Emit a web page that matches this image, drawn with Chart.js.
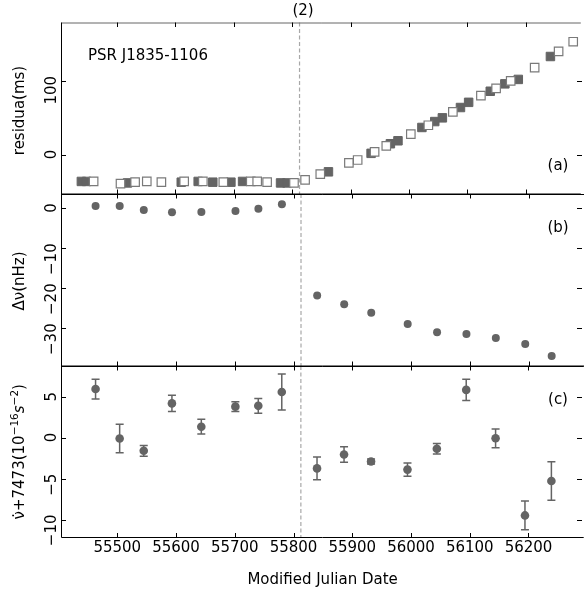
<!DOCTYPE html>
<html>
<head>
<meta charset="utf-8">
<script src="https://cdn.jsdelivr.net/npm/chart.js"></script>
<style>
html, body { margin: 0; padding: 0; background: #fff; overflow: hidden; }
#wrap { position: relative; width: 588px; height: 592px; }
#wrap canvas { position: absolute; left: 0; top: 0; }
</style>
</head>
<body>
<div id="wrap">
  <canvas id="panel-a" width="588" height="592"></canvas>
  <canvas id="panel-b" width="588" height="592"></canvas>
  <canvas id="panel-c" width="588" height="592"></canvas>
</div>
<script>
// Timing residuals (ms), filled and open squares
const residFilledMjd = [55439, 55448, 55518, 55610, 55639, 55664, 55695, 55715, 55780, 55791,
  55862, 55935, 55968, 55981, 56022, 56044, 56057, 56088, 56102, 56139, 56164, 56187, 56242];
const residFilledMs = [-36, -36, -38, -37, -36, -37, -37, -36, -38, -38,
  -23, 2, 15, 19, 37, 45, 50, 64, 71, 86, 96, 102, 133];
const residOpenMjd = [55460, 55506, 55531, 55551, 55576, 55615, 55647, 55682, 55729, 55740, 55757,
  55803, 55822, 55848, 55897, 55912, 55941, 55961, 56003, 56033, 56075, 56123, 56149, 56174,
  56215, 56256, 56281];
const residOpenMs = [-36, -39, -37, -36, -37, -36, -36, -37, -36, -36, -37,
  -38, -34, -26, -11, -7, 4, 12, 28, 40, 58, 80, 90, 100, 118, 140, 153];

// Epochs for the frequency and frequency derivative fits
const epochMjd = [55463, 55504, 55545, 55593, 55643, 55701, 55740, 55780, 55840,
  55886, 55932, 55994, 56044, 56094, 56144, 56194, 56239];
const deltaNu = [0.6, 0.6, -0.4, -1.0, -0.9, -0.7, -0.1, 1.0, -21.8,
  -24.0, -26.1, -28.9, -31.0, -31.4, -32.4, -33.9, -36.9];
const nuDot = [5.95, -0.1, -1.6, 4.2, 1.35, 3.8, 3.9, 5.6, -3.75,
  -2.05, -2.9, -3.9, -1.35, 5.85, -0.07, -9.5, -5.3];
const nuDotErr = [1.2, 1.75, 0.65, 1.0, 0.9, 0.6, 0.9, 2.2, 1.4,
  0.95, 0.3, 0.8, 0.65, 1.3, 1.15, 1.75, 2.35];

// Tick labels
const xTicks = [55500, 55600, 55700, 55800, 55900, 56000, 56100, 56200];
const yTicksA = [0, 100];
const yTicksB = [0, -10, -20, -30];
const yTicksC = [5, 0, -5, -10];
const glitchMjd = 55812.5;

const FONT = '"DejaVu Sans", sans-serif';
const GREY = '#646464';

function toPoints(xs, ys) {
  return xs.map((x, i) => ({ x: x, y: ys[i] }));
}

function fmt(v) {
  return String(v).replace('-', '\u2212');
}

function rotText(ctx, text, x, y, dx) {
  ctx.save();
  ctx.translate(x, y);
  ctx.rotate(-Math.PI / 2);
  ctx.fillText(text, dx, 0);
  ctx.restore();
}

// frame, inward ticks, labels and the dashed glitch line
const framePlugin = {
  id: 'frame',
  beforeDatasetsDraw(chart, args, opts) {
    const ctx = chart.ctx;
    const a = chart.chartArea;
    const gx = chart.scales.x.getPixelForValue(glitchMjd);
    ctx.save();
    ctx.strokeStyle = '#a8a8a8';
    ctx.lineWidth = 1.2;
    ctx.setLineDash([4, 2.5]);
    ctx.beginPath();
    ctx.moveTo(gx, a.top);
    ctx.lineTo(gx, a.bottom);
    ctx.stroke();
    ctx.restore();

    // error bars (panel c only)
    if (opts.errors) {
      const meta = chart.getDatasetMeta(0);
      ctx.save();
      ctx.strokeStyle = GREY;
      ctx.lineWidth = 1.5;
      opts.errors.forEach((e, i) => {
        const px = chart.scales.x.getPixelForValue(epochMjd[i]);
        const y1 = chart.scales.y.getPixelForValue(nuDot[i] + e);
        const y2 = chart.scales.y.getPixelForValue(nuDot[i] - e);
        ctx.beginPath();
        ctx.moveTo(px, y1); ctx.lineTo(px, y2);
        ctx.moveTo(px - 4, y1); ctx.lineTo(px + 4, y1);
        ctx.moveTo(px - 4, y2); ctx.lineTo(px + 4, y2);
        ctx.stroke();
      });
      ctx.restore();
    }
  },
  afterDatasetsDraw(chart, args, opts) {
    const ctx = chart.ctx;
    const a = chart.chartArea;
    const xs = chart.scales.x;
    const ys = chart.scales.y;
    ctx.save();
    ctx.lineWidth = 1;

    // spines
    ctx.strokeStyle = opts.topColor || '#000';
    ctx.beginPath();
    ctx.moveTo(a.left, a.top + 0.5); ctx.lineTo(a.right, a.top + 0.5);
    ctx.stroke();
    ctx.strokeStyle = '#000';
    ctx.beginPath();
    ctx.moveTo(a.left, a.bottom); ctx.lineTo(a.right, a.bottom);
    ctx.moveTo(a.left, a.top); ctx.lineTo(a.left, a.bottom);
    ctx.stroke();

    // inward ticks
    ctx.beginPath();
    xTicks.forEach(v => {
      const px = Math.round(xs.getPixelForValue(v)) + 0.5;
      ctx.moveTo(px, a.top); ctx.lineTo(px, a.top + 4.5);
      ctx.moveTo(px, a.bottom); ctx.lineTo(px, a.bottom - 4.5);
    });
    opts.yTicks.forEach(v => {
      const py = Math.round(ys.getPixelForValue(v)) + 0.5;
      ctx.moveTo(a.left, py); ctx.lineTo(a.left + 4.5, py);
      ctx.moveTo(577, py); ctx.lineTo(582, py);
    });
    ctx.stroke();

    // y tick labels, rotated
    ctx.fillStyle = '#000';
    ctx.font = '15px ' + FONT;
    ctx.textAlign = 'right';
    ctx.textBaseline = 'alphabetic';
    opts.yTicks.forEach(v => {
      rotText(ctx, fmt(v), 55.5, ys.getPixelForValue(v), 5);
    });

    // y title
    if (opts.yTitle) {
      ctx.textAlign = 'center';
      rotText(ctx, opts.yTitle, 23.5, opts.yTitleY, 0);
    }
    if (opts.customTitle) opts.customTitle(ctx, (a.top + a.bottom) / 2);

    // panel label
    ctx.textAlign = 'center';
    ctx.fillText(opts.panelLabel, 558, opts.panelLabelY);

    // extra texts
    (opts.texts || []).forEach(t => {
      ctx.textAlign = t.align || 'left';
      ctx.fillText(t.text, t.x, t.y);
    });

    // x tick labels and title on the bottom panel
    if (opts.showX) {
      ctx.textAlign = 'center';
      xTicks.forEach(v => {
        ctx.fillText(String(v), xs.getPixelForValue(v), 552);
      });
      ctx.fillText('Modified Julian Date', (a.left + a.right) / 2, 583.5);
    }
    ctx.restore();
  }
};

function nuDotTitle(ctx, cy) {
  const parts = [
    { t: '\u03BD\u0307+7473(10', size: 15, rise: 0, style: '' },
    { t: '\u221216', size: 10.5, rise: 6, style: '' },
    { t: 's', size: 15, rise: 0, style: 'italic ' },
    { t: '\u22122', size: 10.5, rise: 6, style: '' },
    { t: ')', size: 15, rise: 0, style: '' }
  ];
  let total = 0;
  parts.forEach(p => {
    ctx.font = p.style + p.size + 'px ' + FONT;
    p.w = ctx.measureText(p.t).width;
    total += p.w;
  });
  ctx.save();
  ctx.translate(23.5, cy);
  ctx.rotate(-Math.PI / 2);
  ctx.textAlign = 'left';
  let x = -total / 2;
  parts.forEach(p => {
    ctx.font = p.style + p.size + 'px ' + FONT;
    ctx.fillText(p.t, x, -p.rise);
    x += p.w;
  });
  ctx.restore();
  ctx.font = '15px ' + FONT;
}

function makePanel(id, top, bottom, yMin, yMax, datasets, frame) {
  const ctx = document.getElementById(id).getContext('2d');
  return new Chart(ctx, {
    type: 'scatter',
    data: { datasets: datasets },
    options: {
      responsive: false,
      animation: false,
      devicePixelRatio: 1,
      layout: { padding: { left: 61.5, right: 0, top: top, bottom: 592 - bottom } },
      scales: {
        x: { type: 'linear', min: 55405, max: 56294, display: false },
        y: { type: 'linear', min: yMin, max: yMax, display: false }
      },
      plugins: {
        legend: { display: false },
        tooltip: { enabled: false },
        frame: frame
      }
    },
    plugins: [framePlugin]
  });
}

document.addEventListener('DOMContentLoaded', () => {
  // (a) residuals
  makePanel('panel-a', 22.5, 194, -53, 179, [
    {
      data: toPoints(residOpenMjd, residOpenMs),
      pointStyle: 'rect', pointRadius: 6,
      backgroundColor: '#fff', borderColor: '#7a7a7a', borderWidth: 1.2
    },
    {
      data: toPoints(residFilledMjd, residFilledMs),
      pointStyle: 'rect', pointRadius: 6,
      backgroundColor: GREY, borderColor: GREY, borderWidth: 1
    }
  ], {
    yTicks: yTicksA, yTitle: 'residua(ms)', yTitleY: 110.5,
    panelLabel: '(a)', panelLabelY: 169.5, topColor: '#666',
    texts: [
      { text: 'PSR J1835-1106', x: 88, y: 60 },
      { text: '(2)', x: 303, y: 15, align: 'center' }
    ]
  });

  // (b) frequency offset
  makePanel('panel-b', 194, 366, -39.425, 3.575, [
    {
      data: toPoints(epochMjd, deltaNu),
      pointRadius: 4, backgroundColor: GREY, borderColor: GREY, borderWidth: 0
    }
  ], {
    yTicks: yTicksB, yTitle: '\u0394\u03BD(nHz)', yTitleY: 281,
    panelLabel: '(b)', panelLabelY: 232.3
  });

  // (c) frequency derivative
  makePanel('panel-c', 366, 537.5, -12.2, 8.77, [
    {
      data: toPoints(epochMjd, nuDot),
      pointRadius: 4.3, backgroundColor: GREY, borderColor: GREY, borderWidth: 0
    }
  ], {
    yTicks: yTicksC, customTitle: nuDotTitle, errors: nuDotErr,
    panelLabel: '(c)', panelLabelY: 404, showX: true
  });
});
</script>
</body>
</html>
